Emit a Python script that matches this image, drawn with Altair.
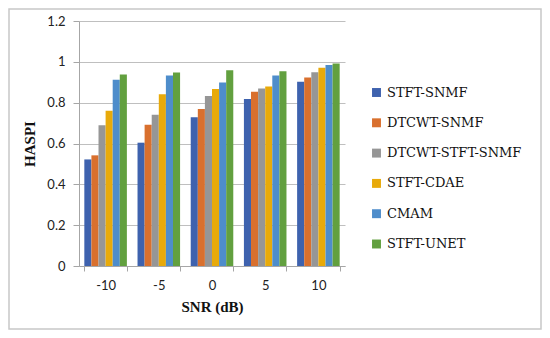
import altair as alt
import pandas as pd

snr = ["-10", "-5", "0", "5", "10"]
methods = ["STFT-SNMF", "DTCWT-SNMF", "DTCWT-STFT-SNMF", "STFT-CDAE", "CMAM", "STFT-UNET"]
colors = ["#3E62AE", "#D9702E", "#969696", "#E8AA0A", "#4E8DCB", "#62A03F"]

stft_snmf = [0.522, 0.604, 0.728, 0.818, 0.902]
dtcwt_snmf = [0.542, 0.692, 0.769, 0.854, 0.923]
dtcwt_stft_snmf = [0.689, 0.741, 0.833, 0.869, 0.949]
stft_cdae = [0.760, 0.841, 0.867, 0.879, 0.971]
cmam = [0.912, 0.933, 0.899, 0.933, 0.984]
stft_unet = [0.938, 0.948, 0.959, 0.954, 0.992]

series = [stft_snmf, dtcwt_snmf, dtcwt_stft_snmf, stft_cdae, cmam, stft_unet]
rows = []
for m, vals in zip(methods, series):
    for s, v in zip(snr, vals):
        rows.append({"SNR": s, "Method": m, "HASPI": v})
df = pd.DataFrame(rows)

serif = "Liberation Serif"
legend_serif = "DejaVu Serif"
sans = "Lato"

bars = alt.Chart(df).mark_bar().encode(
    x=alt.X("SNR:N", sort=snr, scale=alt.Scale(paddingInner=0.2, paddingOuter=0.1),
            axis=alt.Axis(title="SNR (dB)", labelAngle=0, tickBand="extent",
                          labelFont=sans, labelFontSize=13, labelColor="#222",
                          titleFont=serif, titleFontSize=15, titleFontWeight="bold",
                          titleColor="#111", titlePadding=7, labelPadding=8,
                          domainColor="#A6A6A6", tickColor="#A6A6A6", tickSize=5)),
    xOffset=alt.XOffset("Method:N", sort=methods),
    y=alt.Y("HASPI:Q", scale=alt.Scale(domain=[0, 1.2]),
            axis=alt.Axis(title="HASPI", values=[0, 0.2, 0.4, 0.6, 0.8, 1.0, 1.2],
                          format="~g", labelFont=sans, labelFontSize=13, labelColor="#222",
                          titleFont=serif, titleFontSize=15, titleFontWeight="bold",
                          titleColor="#111", titlePadding=9, labelPadding=8,
                          gridColor="#BFBFBF", domainColor="#A6A6A6", tickColor="#A6A6A6",
                          tickSize=6)),
    color=alt.Color("Method:N", sort=methods,
                    scale=alt.Scale(domain=methods, range=colors),
                    legend=alt.Legend(title=None, orient="none", legendX=291, legendY=65,
                                      symbolType="square", symbolSize=80,
                                      symbolStrokeWidth=0, labelFont=legend_serif,
                                      labelFontSize=13, labelFontWeight="normal",
                                      labelColor="#111", labelLimit=200,
                                      rowPadding=16.3, labelOffset=4)),
)

frame = alt.Chart(pd.DataFrame({"a": [0]})).mark_rect(
    fill=None, stroke="#C8C8C8", strokeWidth=1.5
).encode(x=alt.value(-70), x2=alt.value(462), y=alt.value(-12), y2=alt.value(308))

chart = alt.layer(bars, frame).properties(
    width=266, height=245,
    autosize=alt.AutoSizeParams(type="none"),
    padding={"left": 71, "top": 13, "right": 197, "bottom": 64},
).configure_view(stroke=None)

chart.save("out.html", embed_options={"renderer": "svg", "actions": False})
